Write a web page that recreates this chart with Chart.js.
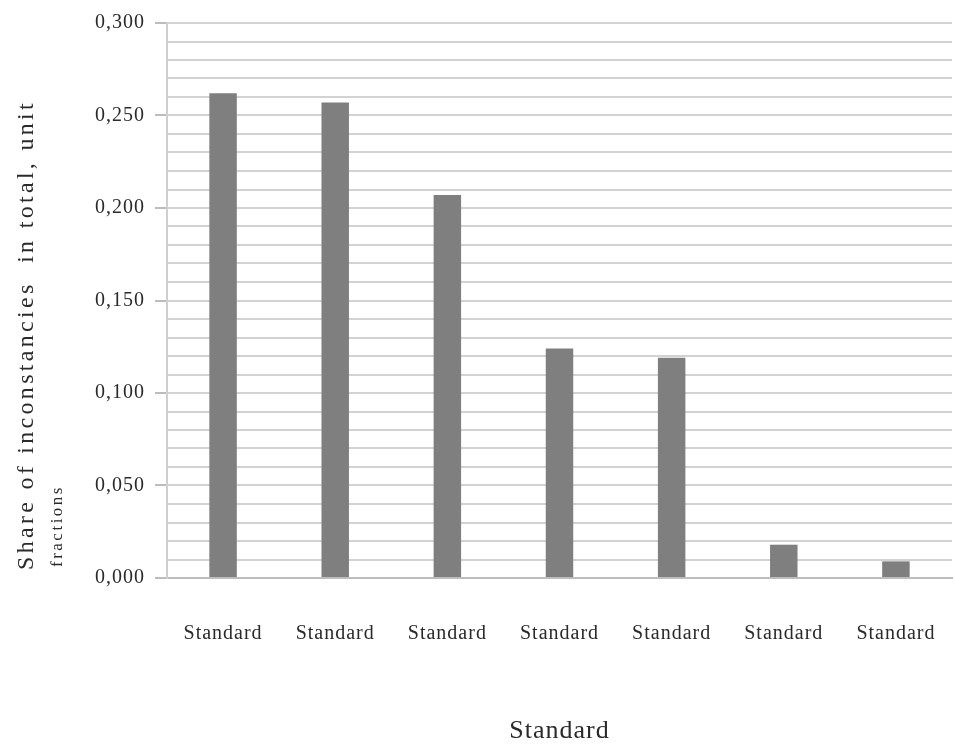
<!DOCTYPE html>
<html>
<head>
<meta charset="utf-8">
<script src="https://cdn.jsdelivr.net/npm/chart.js@4.4.1/dist/chart.umd.min.js"></script>
<style>
  html, body { margin: 0; padding: 0; background: #fff; }
  #wrap { width: 955px; height: 747px; }
</style>
</head>
<body>
<div id="wrap"><canvas id="mycanvas"></canvas></div>
<script>
var categories = ['Standard', 'Standard', 'Standard', 'Standard', 'Standard', 'Standard', 'Standard'];
var shares = [0.262, 0.257, 0.207, 0.124, 0.119, 0.018, 0.009];
var yTitle = 'Share of inconstancies  in total, unit';
var yTitle2 = 'fractions';
var xTitle = 'Standard';

// the original text is set a little wide, so space the letters out a bit
function spaceOut(chart) { chart.ctx.letterSpacing = '1px'; }

// draws the two-line rotated y title (second line smaller, like the original)
var yTitlePlugin = {
	id: 'yTitle',
	beforeUpdate: spaceOut,
	beforeLayout: spaceOut,
	beforeDraw: spaceOut,
	afterDraw: function(chart) {
		var c = chart.ctx;
		c.save();
		c.fillStyle = '#2a2a2a';
		c.textAlign = 'left';
		c.textBaseline = 'middle';
		c.translate(27, 570);
		c.rotate(-Math.PI / 2);
		c.letterSpacing = '3.3px';
		c.font = '24px "Liberation Serif"';
		c.fillText(yTitle, 0, 0);
		c.letterSpacing = '2.5px';
		c.font = '17px "Liberation Serif"';
		c.fillText(yTitle2, 3, 31);
		c.restore();
	}
};

var chartdata = {
	labels: categories,
	datasets: [{
		data: shares,
		backgroundColor: '#7f7f7f',
		borderWidth: 0,
		categoryPercentage: 1,
		barPercentage: 0.245
	}]
};

new Chart(document.getElementById('mycanvas'), {
	type: 'bar',
	data: chartdata,
	plugins: [yTitlePlugin],
	options: {
		responsive: true,
		maintainAspectRatio: false,
		animation: false,
		layout: { padding: { top: 23, right: 3, left: 0, bottom: 0 } },
		plugins: { legend: { display: false }, tooltip: { enabled: false } },
		scales: {
			x: {
				grid: { display: false, drawTicks: false },
				border: { color: '#bdbdbd', width: 2 },
				ticks: {
					color: '#2a2a2a',
					padding: 44,
					maxRotation: 0,
					font: { family: 'Liberation Serif', size: 20 }
				},
				title: {
					display: true,
					text: xTitle,
					color: '#2a2a2a',
					font: { family: 'Liberation Serif', size: 26 },
					padding: { top: 0, bottom: 0 }
				},
				afterFit: function(s) {
					s.height = 169;
					s.paddingLeft = 0;
					s.paddingRight = 0;
				}
			},
			y: {
				min: 0,
				max: 0.3,
				ticks: {
					stepSize: 0.01,
					autoSkip: false,
					padding: 10,
					color: '#2a2a2a',
					font: { family: 'Liberation Serif', size: 20 },
					callback: function(v) {
						var m = Math.round(v * 1000);
						return m % 50 === 0 ? (m / 1000).toFixed(3).replace('.', ',') : '';
					}
				},
				grid: {
					color: '#d2d2d2',
					lineWidth: 2,
					tickLength: 12,
					tickColor: function(ctx) {
						var m = Math.round(ctx.tick.value * 1000);
						return m % 50 === 0 ? '#bdbdbd' : 'rgba(0,0,0,0)';
					}
				},
				border: { color: '#cfcfcf', width: 2 },
				afterFit: function(s) { s.width = 167; }
			}
		}
	}
});
</script>
</body>
</html>
